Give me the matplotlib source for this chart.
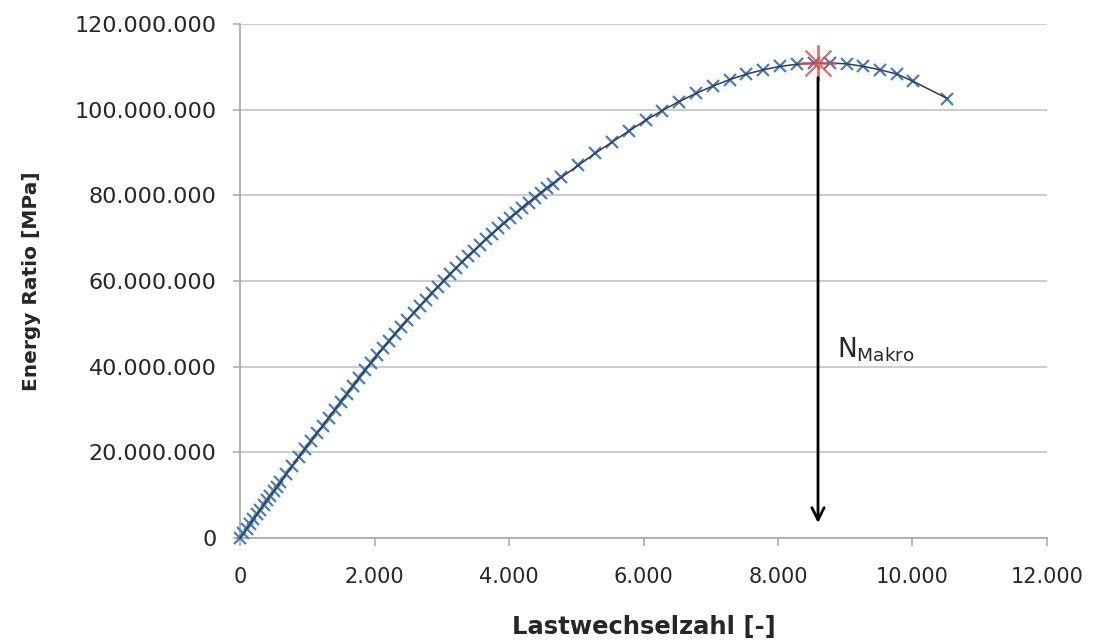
import matplotlib
matplotlib.use("Agg")
from matplotlib import pyplot as plt
from matplotlib.ticker import FuncFormatter, MultipleLocator

# Lastwechselzahl (load cycles) and the energy ratio at each evaluation step
CYCLES = [0, 50, 100, 150, 200, 250, 300, 350, 400, 450, 500, 550, 600,
          690, 780, 870, 960, 1050, 1140, 1230, 1320, 1410, 1500, 1590,
          1680, 1770, 1860, 1950, 2040, 2130, 2220, 2310, 2400, 2490, 2580,
          2670, 2760, 2850, 2940, 3030, 3120, 3210, 3300, 3390, 3480, 3570,
          3660, 3750, 3840, 3930, 4020, 4110, 4200, 4290, 4380, 4470, 4560,
          4650, 4780, 5030, 5280, 5530, 5780, 6030, 6280, 6530, 6780, 7030,
          7280, 7530, 7780, 8030, 8280, 8530, 8770, 9020, 9270, 9520, 9770,
          10010, 10520]
ENERGY_MIO = [0.0, 1.1, 2.2, 3.3, 4.4, 5.5, 6.6, 7.7, 8.8, 9.85, 10.9, 11.95,
              13.0, 14.95, 16.9, 18.8, 20.7, 22.55, 24.4, 26.25, 28.1, 29.95,
              31.8, 33.65, 35.5, 37.35, 39.2, 40.95, 42.7, 44.4, 46.05, 47.7,
              49.35, 50.95, 52.55, 54.1, 55.65, 57.15, 58.65, 60.1, 61.55,
              62.95, 64.35, 65.75, 67.1, 68.45, 69.75, 71.05, 72.3, 73.55,
              74.75, 75.95, 77.15, 78.3, 79.45, 80.55, 81.65, 82.7, 84.2,
              87.0, 89.8, 92.4, 95.0, 97.5, 99.8, 101.9, 103.8, 105.5, 107.0,
              108.3, 109.3, 110.1, 110.6, 110.85, 110.9, 110.7, 110.1, 109.3,
              108.3, 106.6, 102.6]
ENERGY = [v * 1e6 for v in ENERGY_MIO]

# macro crack initiation: maximum of the energy ratio
N_MAKRO = 8595
N_MAKRO_ENERGY = 110.9e6
ARROW_TOP = 107.5e6
ARROW_TIP = 3.5e6

POINT_COLOR = "#4a7ebb"
STAR_COLOR = "#d9534f"
LINE_COLOR = "#3a3a3a"
GRID_COLOR = "#c8c8c8"
AXIS_COLOR = "#a6a6a6"
TEXT_COLOR = "#262626"

plt.rcParams["font.family"] = ["DejaVu Sans"]


def dotted_thousands(value, _pos):
    return f"{value:,.0f}".replace(",", ".")


fig = plt.figure(figsize=(10.97, 6.43), dpi=100)
ax = fig.add_axes([0.2188, 0.1633, 0.7356, 0.7994])

ax.plot(CYCLES, ENERGY, linestyle="none", marker="x", markersize=8,
        markeredgewidth=1.6, color=POINT_COLOR, zorder=3, clip_on=False)
ax.plot(CYCLES, ENERGY, color=LINE_COLOR, linewidth=1.1, zorder=4,
        clip_on=False)
ax.plot([N_MAKRO], [N_MAKRO_ENERGY], linestyle="none", marker=(8, 2, 0),
        markersize=26, markeredgewidth=1.4, color=STAR_COLOR, alpha=0.8,
        zorder=5, clip_on=False)

ax.annotate("", xy=(N_MAKRO, ARROW_TIP), xytext=(N_MAKRO, ARROW_TOP),
            arrowprops=dict(arrowstyle="->", color="black", lw=2,
                            mutation_scale=22, shrinkA=0, shrinkB=0),
            zorder=6)
ax.text(N_MAKRO + 280, 44e6, r"N$_{\mathregular{Makro}}$", fontsize=19,
        color=TEXT_COLOR, va="center", ha="left")

ax.set_xlim(0, 12000)
ax.set_ylim(0, 120e6)
ax.xaxis.set_major_locator(MultipleLocator(2000))
ax.yaxis.set_major_locator(MultipleLocator(20e6))
ax.xaxis.set_major_formatter(FuncFormatter(dotted_thousands))
ax.yaxis.set_major_formatter(FuncFormatter(dotted_thousands))

ax.yaxis.grid(True, color=GRID_COLOR, linewidth=1.3)
ax.set_axisbelow(True)
for side in ("top", "right"):
    ax.spines[side].set_visible(False)
for side in ("left", "bottom"):
    ax.spines[side].set_color(AXIS_COLOR)
    ax.spines[side].set_linewidth(1.2)
ax.tick_params(axis="both", colors=AXIS_COLOR, labelcolor=TEXT_COLOR,
               width=1.1)
ax.tick_params(axis="x", length=6, pad=15, labelsize=15)
ax.tick_params(axis="y", length=5, pad=12, labelsize=16)

ax.set_xlabel("Lastwechselzahl [-]", fontsize=17.5, fontweight="bold",
              color=TEXT_COLOR, labelpad=20)
ax.set_ylabel("Energy Ratio [MPa]", fontsize=14.5, fontweight="bold",
              color=TEXT_COLOR, labelpad=24)

fig.savefig("out.png", dpi=100)
